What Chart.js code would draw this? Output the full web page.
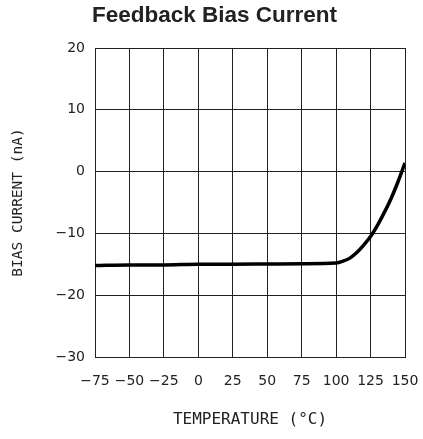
<!DOCTYPE html>
<html>
<head>
<meta charset="utf-8">
<script src="https://cdn.jsdelivr.net/npm/chart.js@4.4.1/dist/chart.umd.min.js"></script>
<style>
html,body{margin:0;padding:0;background:#fff;}
#wrap{width:423px;height:439px;position:relative;}
</style>
</head>
<body>
<div id="wrap"><canvas id="c" width="423" height="439"></canvas></div>
<script>
const temperatures = [-75, -50, -25, 0, 25, 50, 75, 100, 105, 110, 115, 120, 125, 130, 135, 140, 145, 150];
const biasCurrent = [-15.2, -15.1, -15.1, -15.0, -15.0, -14.95, -14.9, -14.8, -14.5, -14.0, -13.1, -11.9, -10.5, -8.7, -6.6, -4.3, -1.6, 1.4];
const xTicks = [-75, -50, -25, 0, 25, 50, 75, 100, 125, 150];
const yTicks = [-30, -20, -10, 0, 10, 20];

const points = temperatures.map((t, i) => ({x: t, y: biasCurrent[i]}));
const fmt = v => (v < 0 ? '\u2212' + Math.abs(v) : String(v));

const titleShift = {
  id: 'titleShift',
  afterLayout(chart) {
    const t = chart.titleBlock;
    if (t) { t.left = 6; t.right = 423; }
  }
};

new Chart(document.getElementById('c'), {
  type: 'line',
  data: {
    datasets: [{
      data: points,
      borderColor: '#000',
      borderWidth: 3.5,
      pointRadius: 0,
      cubicInterpolationMode: 'monotone',
      fill: false
    }]
  },
  plugins: [titleShift],
  options: {
    responsive: false,
    animation: false,
    devicePixelRatio: 1,
    layout: {padding: {left: 6, right: 18, top: 0, bottom: 10}},
    plugins: {
      legend: {display: false},
      tooltip: {enabled: false},
      title: {
        display: true,
        text: 'Feedback Bias Current',
        color: '#222',
        font: {family: 'Liberation Sans', size: 22.5, weight: 'bold'},
        padding: {top: 2, bottom: 19}
      }
    },
    scales: {
      x: {
        type: 'linear',
        min: -75, max: 150,
        afterBuildTicks: s => { s.ticks = xTicks.map(v => ({value: v})); },
        afterFit: s => { s.height = 72; s.paddingLeft = 0; s.paddingRight = 0; },
        grid: {color: '#222', lineWidth: 1, drawTicks: false},
        border: {color: '#222', width: 1},
        ticks: {
          color: '#222',
          font: {family: 'DejaVu Sans', size: 14},
          padding: 16,
          maxRotation: 0,
          autoSkip: false,
          callback: v => fmt(v)
        },
        title: {
          display: true,
          text: 'TEMPERATURE (\u00B0C)',
          color: '#222',
          font: {family: 'DejaVu Sans Mono', size: 16},
          padding: {top: 20, bottom: 0}
        }
      },
      y: {
        type: 'linear',
        min: -30, max: 20,
        afterBuildTicks: s => { s.ticks = yTicks.map(v => ({value: v})); },
        afterFit: s => { s.width = 89; },
        grid: {color: '#222', lineWidth: 1, drawTicks: false},
        border: {color: '#222', width: 1},
        ticks: {
          color: '#222',
          font: {family: 'DejaVu Sans', size: 14},
          padding: 10,
          callback: v => fmt(v)
        },
        title: {
          display: true,
          text: 'BIAS CURRENT (nA)',
          color: '#222',
          font: {family: 'DejaVu Sans Mono', size: 14.5},
          padding: {top: 4, bottom: 0}
        }
      }
    }
  }
});
</script>
</body>
</html>
